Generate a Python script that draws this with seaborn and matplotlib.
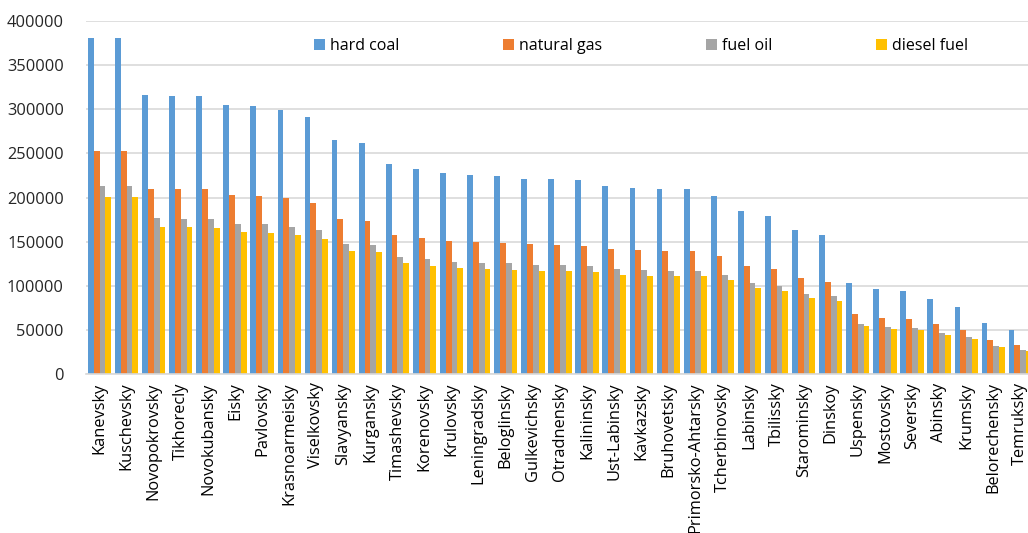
import matplotlib
matplotlib.use("Agg")
import matplotlib.pyplot as plt
import seaborn as sns
import pandas as pd

districts = [
    "Kanevsky", "Kuschevsky", "Novopokrovsky", "Tikhorecly", "Novokubansky",
    "Eisky", "Pavlovsky", "Krasnoarmeisky", "Viselkovsky", "Slavyansky",
    "Kurgansky", "Timashevsky", "Korenovsky", "Krulovsky", "Leningradsky",
    "Beloglinsky", "Gulkevichsky", "Otradnensky", "Kalininsky", "Ust-Labinsky",
    "Kavkazsky", "Bruhovetsky", "Primorsko-Ahtarsky", "Tcherbinovsky", "Labinsky",
    "Tbilissky", "Starominsky", "Dinskoy", "Uspensky", "Mostovsky",
    "Seversky", "Abinsky", "Krumsky", "Belorechensky", "Temruksky",
]

hard_coal = [
    380700, 380400, 316500, 315300, 314600, 304400, 303600, 299500, 291100, 264700,
    262000, 238200, 232500, 227600, 225000, 224600, 221500, 220400, 220000, 213600,
    211300, 209900, 209900, 201900, 184900, 179600, 163400, 157700, 102800, 96800,
    94200, 85100, 76000, 58200, 50300,
]
natural_gas = [
    252900, 253000, 210200, 209800, 209100, 202300, 201900, 198900, 193500, 175800,
    173900, 158000, 154600, 151200, 149300, 148900, 147000, 146300, 145500, 141800,
    140700, 139500, 139500, 134200, 122900, 119500, 108900, 104700, 68100, 63900,
    62400, 56300, 49900, 38600, 33200,
]
fuel_oil = [
    213300, 213000, 177000, 176200, 175800, 170100, 169700, 167100, 162900, 147800,
    146700, 133100, 130000, 127100, 125900, 125500, 124000, 123200, 122900, 119500,
    118000, 117200, 117200, 112600, 103200, 100200, 91100, 88000, 57100, 53700,
    52200, 46900, 42000, 32100, 27600,
]
diesel_fuel = [
    201100, 200800, 167100, 166700, 166000, 160600, 160300, 158000, 153500, 139900,
    138400, 125900, 122900, 120200, 118700, 118300, 117200, 116400, 116000, 112600,
    111500, 110700, 110700, 106600, 97600, 94500, 86200, 83200, 54000, 50600,
    49500, 44600, 39700, 30600, 26400,
]

series_names = ["hard coal", "natural gas", "fuel oil", "diesel fuel"]
series_values = [hard_coal, natural_gas, fuel_oil, diesel_fuel]
palette = ["#5B9BD5", "#ED7D31", "#A5A5A5", "#FFC000"]
y_ticks = [0, 50000, 100000, 150000, 200000, 250000, 300000, 350000, 400000]

rows = []
for name, vals in zip(series_names, series_values):
    for d, v in zip(districts, vals):
        rows.append({"district": d, "fuel": name, "value": v})
df = pd.DataFrame(rows)

sns.set_theme(style="white")
plt.rcParams["font.family"] = ["Open Sans", "DejaVu Sans"]

fig = plt.figure(figsize=(10.28, 5.33), dpi=100)
# axes run slightly past the right edge of the figure
ax = fig.add_axes([0.0837, 0.2983, 0.922, 0.6623])

sns.barplot(
    data=df, x="district", y="value", hue="fuel",
    hue_order=series_names, order=districts, palette=palette,
    width=0.86, saturation=1, linewidth=0, ax=ax, legend=True,
)

ax.set_ylim(0, 400000)
ax.set_xlim(-0.5, len(districts) - 0.5)
ax.set_yticks(y_ticks)
ax.set_yticklabels([str(t) for t in y_ticks], fontsize=11.8, color="#262626")
ax.yaxis.grid(True, color="#D9D9D9", linewidth=1.2)
ax.set_axisbelow(True)
ax.tick_params(axis="y", length=0, pad=16)
ax.tick_params(axis="x", length=0, pad=6)
ax.set_xticks(range(len(districts)))
ax.set_xticklabels(districts, rotation=90, fontsize=11.8, color="#000000")
ax.set_xlabel("")
ax.set_ylabel("")
for side in ["left", "right", "top"]:
    ax.spines[side].set_visible(False)
ax.spines["bottom"].set_color("#D9D9D9")
ax.spines["bottom"].set_linewidth(1.2)

leg = ax.legend(
    loc="center left", bbox_to_anchor=(0.225, 0.93), ncol=4, frameon=False,
    fontsize=11.5, handlelength=0.7, handleheight=0.7, handletextpad=0.3,
    columnspacing=6.5,
)
for t in leg.get_texts():
    t.set_color("#000000")

fig.savefig("out.png", dpi=100)
